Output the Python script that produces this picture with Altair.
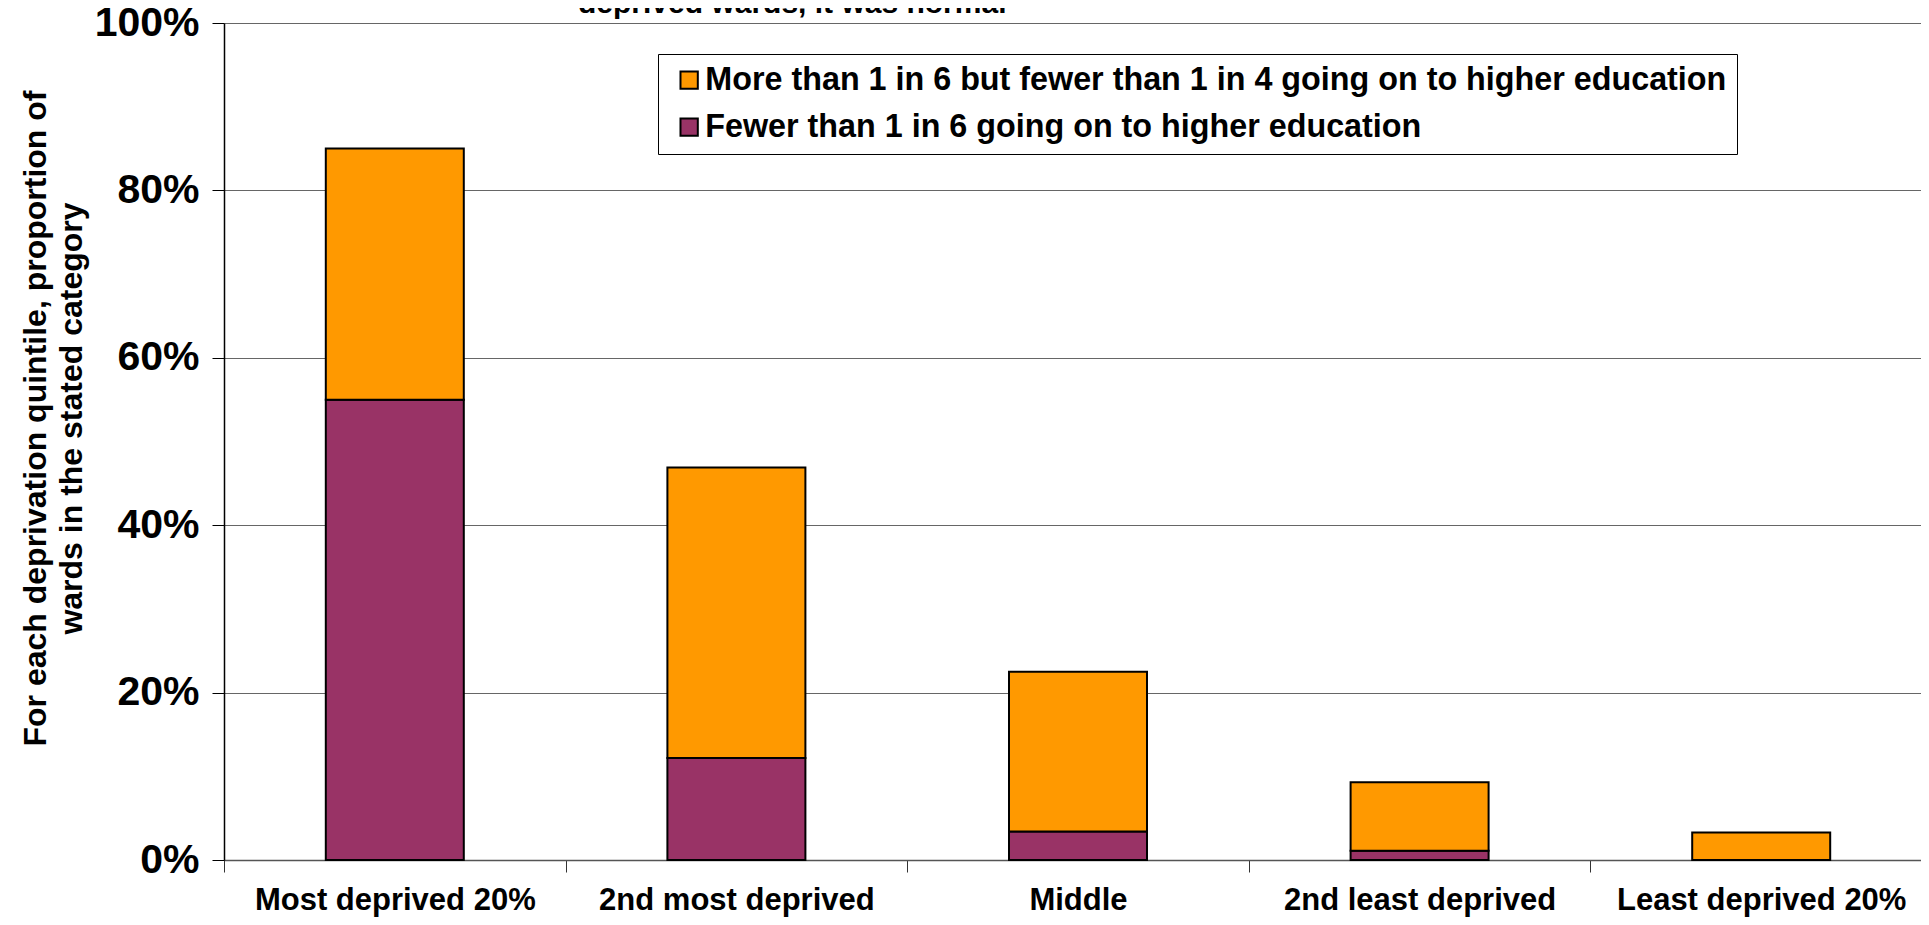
import altair as alt
import pandas as pd

categories = ["Most deprived 20%", "2nd most deprived", "Middle", "2nd least deprived", "Least deprived 20%"]
fewer_than_1_in_6 = [55.0, 12.2, 3.4, 1.1, 0.0]
between_1_in_6_and_1_in_4 = [30.0, 34.7, 19.1, 8.2, 3.3]
series_names = [
    "More than 1 in 6 but fewer than 1 in 4 going on to higher education",
    "Fewer than 1 in 6 going on to higher education",
]
series_colors = ["#FF9900", "#993366"]
y_ticks = [0, 20, 40, 60, 80, 100]
title_line = "deprived wards, it was normal"
y_title = ["For each deprivation quintile, proportion of", "wards in the stated category"]

rows = []
for i, c in enumerate(categories):
    rows.append({"cat": c, "series": series_names[1], "value": fewer_than_1_in_6[i], "ord": 0})
    rows.append({"cat": c, "series": series_names[0], "value": between_1_in_6_and_1_in_4[i], "ord": 1})
df = pd.DataFrame(rows)

FONT = "Liberation Sans"

bars = alt.Chart(df).transform_filter("datum.value > 0").mark_bar(
    size=138, stroke="black", strokeWidth=2
).encode(
    x=alt.X(
        "cat:N",
        sort=categories,
        scale=alt.Scale(range=[0, 1708], paddingInner=0, paddingOuter=0),
        axis=alt.Axis(
            title=None, labelAngle=0, labelFontSize=31, labelFont=FONT,
            labelFontWeight="bold", labelColor="black", tickBand="extent",
            tickSize=12, tickColor="#333", domainColor="#555", domainWidth=1.5,
            labelPadding=13, grid=False, labelLimit=400,
        ),
    ),
    y=alt.Y(
        "value:Q",
        stack="zero",
        scale=alt.Scale(domain=[0, 100], nice=False),
        axis=alt.Axis(
            values=y_ticks, labelExpr="datum.value + '%'", title=y_title,
            labelFontSize=41, labelFont=FONT, labelFontWeight="bold", labelColor="black",
            tickSize=12, tickColor="black", domainColor="black", domainWidth=1.5,
            labelPadding=13, grid=True, gridColor="#666", gridWidth=1.2,
            titleFont=FONT, titleFontSize=32, titleFontWeight="bold", titleColor="black",
            titleX=-189, titleY=395, titleAngle=270, titleAlign="center",
            titleBaseline="middle", titleLineHeight=36,
        ),
    ),
    color=alt.Color(
        "series:N",
        scale=alt.Scale(domain=series_names, range=series_colors),
        legend=alt.Legend(
            title=None, orient="none", legendX=434, legendY=31, direction="vertical",
            labelFontSize=32.3, labelFont=FONT, labelFontWeight="bold", labelColor="black",
            symbolType="square", symbolSize=300, symbolStrokeColor="black",
            symbolStrokeWidth=2, symbolOpacity=1, strokeColor="black", fillColor="white",
            padding=10, rowPadding=14, symbolOffset=5, labelOffset=0, labelLimit=1400,
        ),
    ),
    order=alt.Order("ord:Q"),
)

title = alt.Chart(pd.DataFrame({"t": [title_line]})).mark_text(
    align="left", baseline="alphabetic", fontSize=30, font=FONT, fontWeight="bold", color="black"
).encode(text="t:N", x=alt.value(354), y=alt.value(-10))

chart = alt.layer(bars, title).properties(
    width=1697,
    height=837,
    autosize=alt.AutoSizeParams(type="none"),
    padding={"left": 216, "top": 15, "right": 0, "bottom": 57},
).configure_view(stroke=None).configure(background="white")

chart.save("out.html", embed_options={"renderer": "svg", "actions": False})
